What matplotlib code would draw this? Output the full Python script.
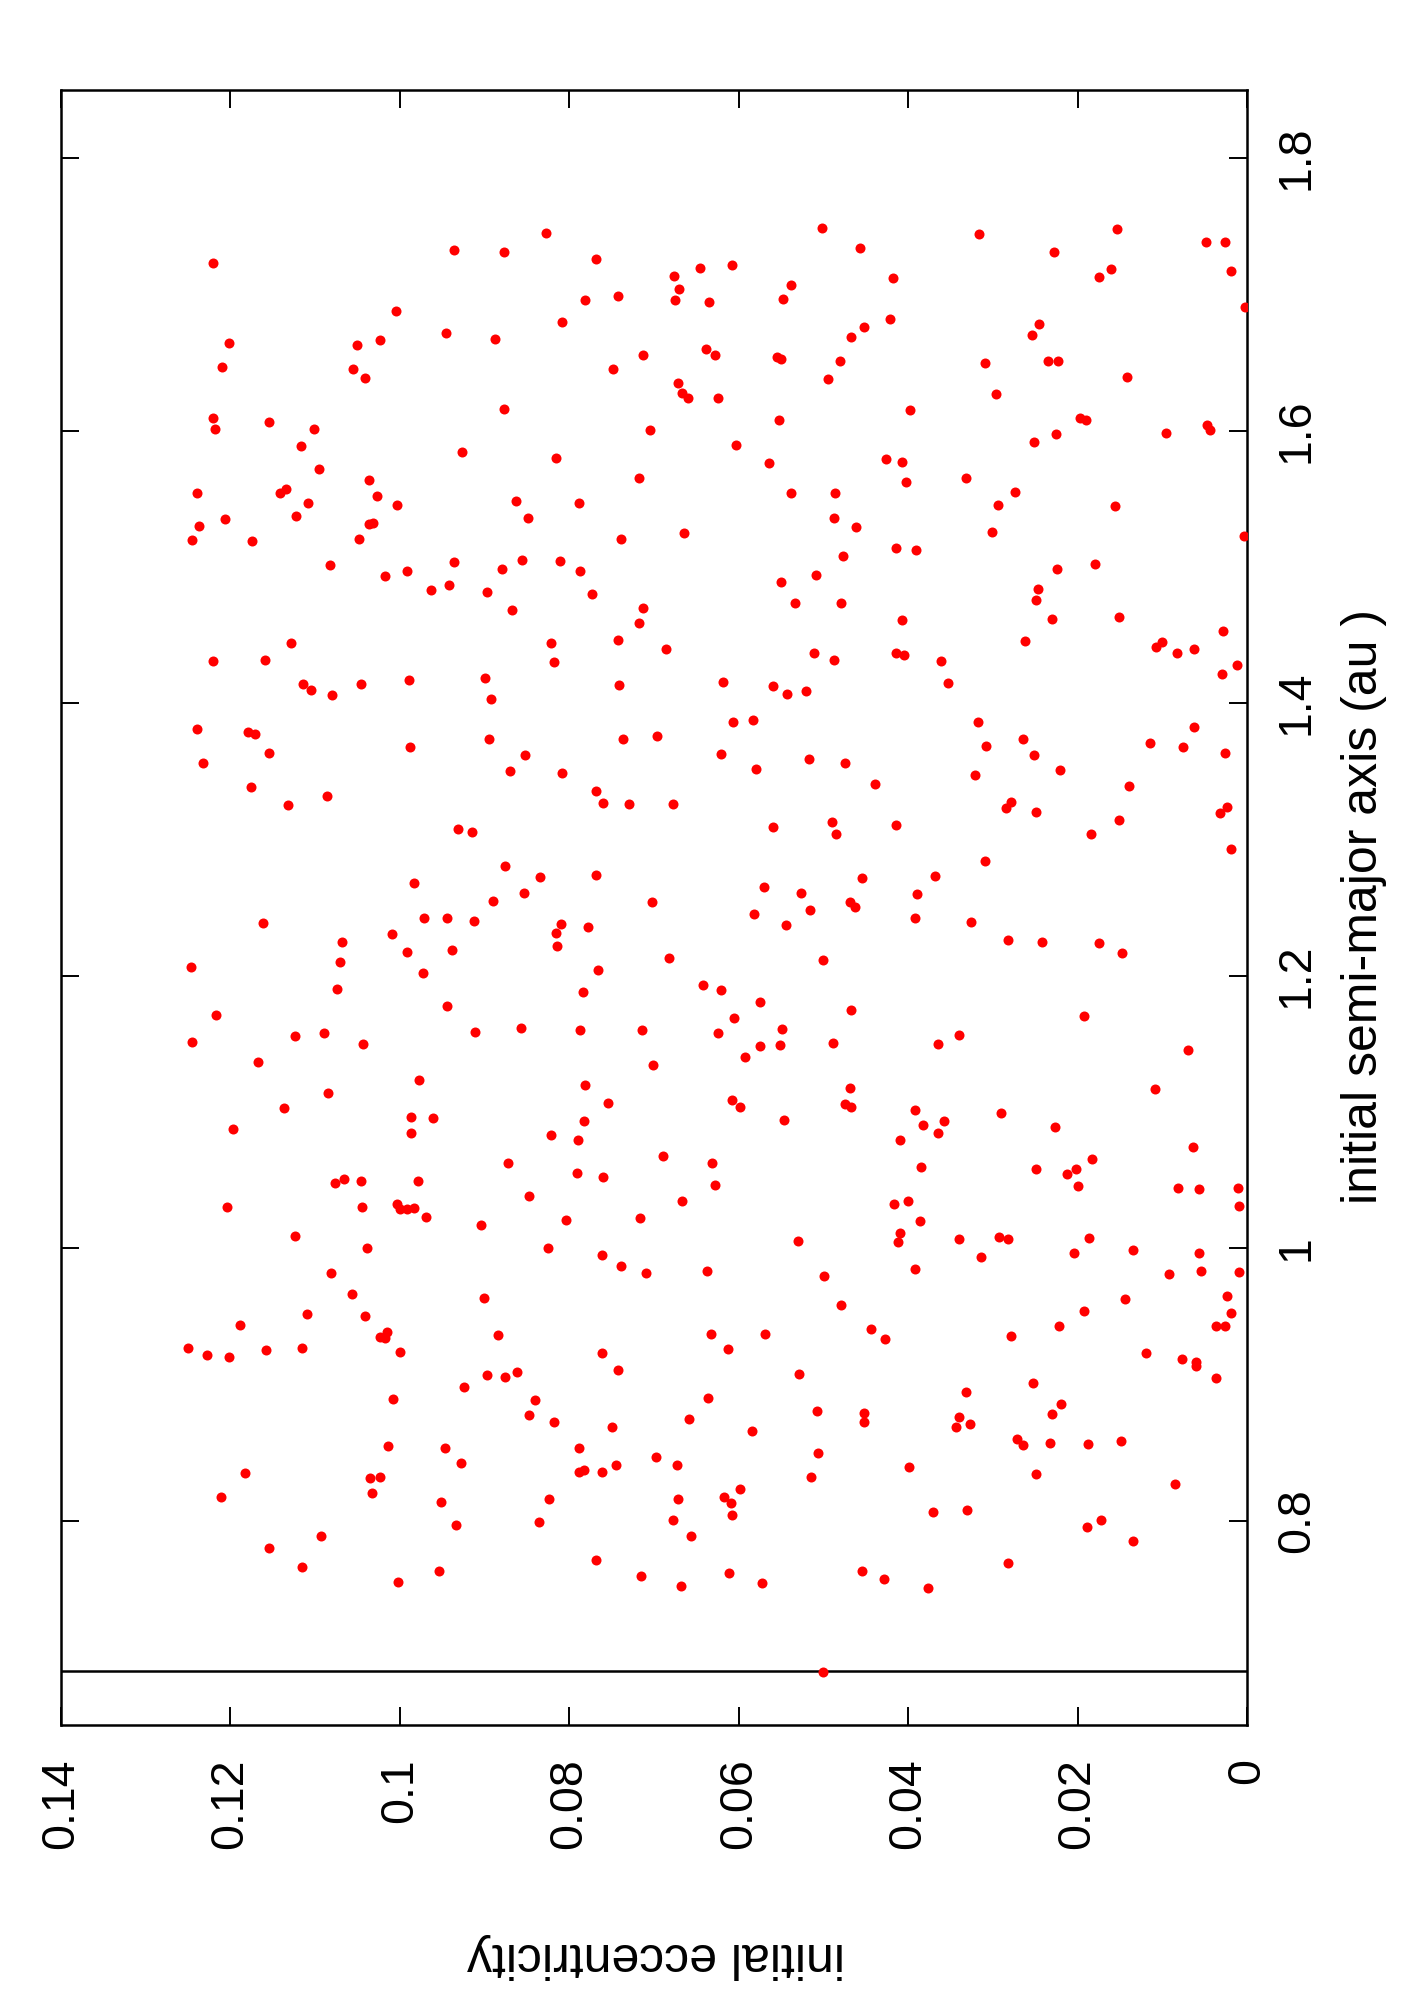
import matplotlib
matplotlib.use("Agg")
import matplotlib.pyplot as plt
import numpy as np

plt.rcParams['font.family'] = ['Liberation Sans', 'DejaVu Sans']

# (eccentricity, semi-major axis [au]), by band in a
band_155_185 = [
    (0.1221, 1.7233), (0.0936, 1.7323), (0.0877, 1.7314), (0.0828, 1.7448), (0.0769, 1.7257),
    (0.0782, 1.6957), (0.0743, 1.6991), (0.1005, 1.6878), (0.0809, 1.6795), (0.1202, 1.6643),
    (0.1051, 1.6631), (0.1023, 1.6663), (0.0945, 1.6719), (0.0888, 1.6673), (0.0713, 1.6555),
    (0.1210, 1.6470), (0.1055, 1.6450), (0.1041, 1.6384), (0.0748, 1.6450), (0.0877, 1.6159),
    (0.1220, 1.6091), (0.1218, 1.6010), (0.1154, 1.6061), (0.1101, 1.6010), (0.0705, 1.6003),
    (0.1117, 1.5890), (0.0927, 1.5846), (0.0816, 1.5797), (0.1095, 1.5719), (0.1036, 1.5638),
    (0.0718, 1.5655), (0.1240, 1.5540), (0.1142, 1.5545), (0.1134, 1.5572), (0.1027, 1.5523),
    (0.0502, 1.7485), (0.0457, 1.7343), (0.0316, 1.7443), (0.0154, 1.7478), (0.0048, 1.7382),
    (0.0026, 1.7382), (0.0228, 1.7309), (0.0676, 1.7138), (0.0646, 1.7196), (0.0608, 1.7213),
    (0.0670, 1.7037), (0.0675, 1.6959), (0.0635, 1.6942), (0.0538, 1.7069), (0.0548, 1.6966),
    (0.0418, 1.7118), (0.0175, 1.7130), (0.0161, 1.7186), (0.0019, 1.7172), (0.0002, 1.6905),
    (0.0422, 1.6820), (0.0452, 1.6763), (0.0467, 1.6685), (0.0246, 1.6780), (0.0254, 1.6705),
    (0.0639, 1.6597), (0.0628, 1.6555), (0.0555, 1.6538), (0.0550, 1.6524), (0.0481, 1.6509),
    (0.0495, 1.6377), (0.0309, 1.6499), (0.0235, 1.6509), (0.0223, 1.6514), (0.0142, 1.6394),
    (0.0672, 1.6352), (0.0667, 1.6279), (0.0660, 1.6237), (0.0624, 1.6242), (0.0296, 1.6269),
    (0.0553, 1.6076), (0.0398, 1.6149), (0.0197, 1.6091), (0.0190, 1.6078), (0.0047, 1.6042),
    (0.0044, 1.6005), (0.0096, 1.5981), (0.0225, 1.5973), (0.0252, 1.5919), (0.0603, 1.5895),
    (0.0564, 1.5760), (0.0426, 1.5792), (0.0407, 1.5773), (0.0403, 1.5626), (0.0332, 1.5655),
    (0.0538, 1.5540), (0.0486, 1.5540), (0.0274, 1.5548),
]

band_125_155 = [
    (0.1109, 1.5471), (0.1003, 1.5457), (0.0863, 1.5484), (0.0788, 1.5467), (0.1237, 1.5300),
    (0.1206, 1.5349), (0.1123, 1.5374), (0.1036, 1.5312), (0.1032, 1.5320), (0.0849, 1.5359),
    (0.1245, 1.5197), (0.1174, 1.5188), (0.1048, 1.5207), (0.0739, 1.5202), (0.1082, 1.5012),
    (0.1018, 1.4931), (0.0992, 1.4972), (0.0936, 1.5034), (0.0880, 1.4982), (0.0856, 1.5053),
    (0.0811, 1.5043), (0.0787, 1.4972), (0.0963, 1.4828), (0.0942, 1.4865), (0.0897, 1.4818),
    (0.0773, 1.4799), (0.0868, 1.4681), (0.0713, 1.4701), (0.0718, 1.4586), (0.1128, 1.4439),
    (0.0822, 1.4444), (0.0742, 1.4461), (0.1220, 1.4310), (0.1159, 1.4314), (0.0818, 1.4305),
    (0.1114, 1.4141), (0.1105, 1.4099), (0.1080, 1.4063), (0.1046, 1.4138), (0.0989, 1.4173),
    (0.0899, 1.4187), (0.0893, 1.4028), (0.0741, 1.4131), (0.1239, 1.3811), (0.1179, 1.3786),
    (0.1171, 1.3771), (0.1154, 1.3632), (0.1232, 1.3559), (0.0988, 1.3676), (0.0895, 1.3737),
    (0.0852, 1.3617), (0.0870, 1.3500), (0.0809, 1.3488), (0.0737, 1.3735), (0.0697, 1.3757),
    (0.1176, 1.3383), (0.1132, 1.3253), (0.1086, 1.3319), (0.0768, 1.3353), (0.0760, 1.3268),
    (0.0730, 1.3263), (0.0931, 1.3077), (0.0915, 1.3057), (0.0876, 1.2803), (0.0834, 1.2727),
    (0.0769, 1.2742), (0.0983, 1.2678), (0.0854, 1.2605), (0.0890, 1.2551), (0.0702, 1.2544),
    (0.0294, 1.5454), (0.0156, 1.5449), (0.0664, 1.5246), (0.0487, 1.5356), (0.0462, 1.5290),
    (0.0301, 1.5254), (0.0003, 1.5227), (0.0414, 1.5141), (0.0391, 1.5124), (0.0477, 1.5083),
    (0.0224, 1.4985), (0.0180, 1.5024), (0.0550, 1.4892), (0.0509, 1.4938), (0.0247, 1.4838),
    (0.0249, 1.4757), (0.0533, 1.4738), (0.0479, 1.4735), (0.0407, 1.4608), (0.0230, 1.4620),
    (0.0151, 1.4635), (0.0028, 1.4527), (0.0686, 1.4395), (0.0511, 1.4371), (0.0488, 1.4314),
    (0.0414, 1.4371), (0.0405, 1.4354), (0.0361, 1.4307), (0.0262, 1.4454), (0.0107, 1.4415),
    (0.0100, 1.4447), (0.0083, 1.4368), (0.0063, 1.4400), (0.0012, 1.4278), (0.0030, 1.4217),
    (0.0618, 1.4158), (0.0559, 1.4129), (0.0543, 1.4065), (0.0521, 1.4092), (0.0353, 1.4148),
    (0.0607, 1.3860), (0.0583, 1.3879), (0.0318, 1.3862), (0.0062, 1.3825), (0.0308, 1.3686),
    (0.0265, 1.3737), (0.0252, 1.3620), (0.0114, 1.3705), (0.0075, 1.3676), (0.0026, 1.3632),
    (0.0621, 1.3627), (0.0517, 1.3588), (0.0474, 1.3559), (0.0580, 1.3515), (0.0439, 1.3407),
    (0.0321, 1.3471), (0.0221, 1.3510), (0.0139, 1.3390), (0.0677, 1.3258), (0.0284, 1.3233),
    (0.0279, 1.3275), (0.0249, 1.3199), (0.0151, 1.3145), (0.0032, 1.3197), (0.0024, 1.3241),
    (0.0559, 1.3089), (0.0490, 1.3128), (0.0485, 1.3038), (0.0414, 1.3106), (0.0184, 1.3038),
    (0.0019, 1.2932), (0.0309, 1.2840), (0.0454, 1.2720), (0.0368, 1.2732), (0.0570, 1.2649),
    (0.0527, 1.2610), (0.0390, 1.2597), (0.0469, 1.2544), (0.0463, 1.2507),
]

band_095_125 = [
    (0.1162, 1.2384), (0.0971, 1.2426), (0.0944, 1.2426), (0.0913, 1.2404), (0.0810, 1.2379),
    (0.0816, 1.2316), (0.0778, 1.2357), (0.1068, 1.2247), (0.1009, 1.2306), (0.0991, 1.2174),
    (0.0939, 1.2191), (0.0815, 1.2220), (0.1246, 1.2061), (0.1071, 1.2098), (0.0973, 1.2022),
    (0.0766, 1.2039), (0.1074, 1.1902), (0.0784, 1.1883), (0.0944, 1.1778), (0.1217, 1.1714),
    (0.1245, 1.1516), (0.1124, 1.1560), (0.1090, 1.1577), (0.1043, 1.1501), (0.0911, 1.1584),
    (0.0857, 1.1616), (0.0787, 1.1604), (0.0714, 1.1599), (0.1168, 1.1364), (0.0701, 1.1342),
    (0.0977, 1.1235), (0.0781, 1.1195), (0.1085, 1.1142), (0.1137, 1.1032), (0.0754, 1.1066),
    (0.0987, 1.0961), (0.0961, 1.0953), (0.0783, 1.0931), (0.1197, 1.0877), (0.0987, 1.0843),
    (0.0821, 1.0833), (0.0790, 1.0792), (0.0872, 1.0625), (0.1076, 1.0476), (0.1066, 1.0506),
    (0.1046, 1.0496), (0.0979, 1.0493), (0.0791, 1.0555), (0.0760, 1.0520), (0.0847, 1.0386),
    (0.1204, 1.0305), (0.1045, 1.0300), (0.1003, 1.0325), (0.1000, 1.0285), (0.0991, 1.0290),
    (0.0983, 1.0298), (0.0969, 1.0227), (0.0904, 1.0168), (0.0804, 1.0207), (0.0716, 1.0222),
    (0.1124, 1.0087), (0.1039, 1.0004), (0.0825, 0.9999), (0.0761, 0.9950), (0.0739, 0.9867),
    (0.0710, 0.9821), (0.1081, 0.9816), (0.1057, 0.9662), (0.0901, 0.9637), (0.1110, 0.9517),
    (0.1041, 0.9503),
    (0.0582, 1.2450), (0.0544, 1.2372), (0.0516, 1.2482), (0.0392, 1.2421), (0.0326, 1.2391),
    (0.0682, 1.2127), (0.0501, 1.2118), (0.0282, 1.2259), (0.0242, 1.2245), (0.0175, 1.2240),
    (0.0147, 1.2169), (0.0642, 1.1929), (0.0621, 1.1893), (0.0575, 1.1809), (0.0468, 1.1751),
    (0.0192, 1.1702), (0.0605, 1.1692), (0.0549, 1.1606), (0.0624, 1.1579), (0.0575, 1.1484),
    (0.0551, 1.1494), (0.0489, 1.1506), (0.0365, 1.1499), (0.0340, 1.1565), (0.0070, 1.1452),
    (0.0592, 1.1406), (0.0469, 1.1173), (0.0109, 1.1171), (0.0608, 1.1088), (0.0598, 1.1039),
    (0.0475, 1.1056), (0.0468, 1.1039), (0.0392, 1.1014), (0.0290, 1.0990), (0.0546, 1.0943),
    (0.0382, 1.0907), (0.0358, 1.0934), (0.0365, 1.0843), (0.0227, 1.0887), (0.0410, 1.0797),
    (0.0064, 1.0740), (0.0689, 1.0674), (0.0631, 1.0625), (0.0385, 1.0594), (0.0249, 1.0584),
    (0.0213, 1.0542), (0.0202, 1.0579), (0.0183, 1.0655), (0.0628, 1.0464), (0.0199, 1.0454),
    (0.0081, 1.0440), (0.0057, 1.0435), (0.0011, 1.0440), (0.0010, 1.0307), (0.0667, 1.0349),
    (0.0417, 1.0325), (0.0400, 1.0349), (0.0386, 1.0200), (0.0410, 1.0109), (0.0412, 1.0046),
    (0.0530, 1.0051), (0.0340, 1.0065), (0.0293, 1.0078), (0.0282, 1.0070), (0.0187, 1.0075),
    (0.0134, 0.9987), (0.0057, 0.9963), (0.0204, 0.9963), (0.0314, 0.9933), (0.0637, 0.9833),
    (0.0499, 0.9794), (0.0392, 0.9845), (0.0092, 0.9809), (0.0054, 0.9835), (0.0009, 0.9828),
    (0.0479, 0.9579), (0.0144, 0.9625), (0.0193, 0.9535), (0.0024, 0.9647), (0.0019, 0.9527),
]

band_065_095 = [
    (0.1189, 0.9436), (0.1250, 0.9265), (0.1228, 0.9216), (0.1202, 0.9199), (0.1158, 0.9253),
    (0.1115, 0.9265), (0.1023, 0.9351), (0.1015, 0.9387), (0.1018, 0.9338), (0.1000, 0.9236),
    (0.0884, 0.9363), (0.0761, 0.9228), (0.0743, 0.9109), (0.0897, 0.9069), (0.0876, 0.9052),
    (0.0862, 0.9089), (0.0924, 0.8979), (0.1008, 0.8893), (0.0841, 0.8884), (0.0847, 0.8773),
    (0.0818, 0.8722), (0.0750, 0.8685), (0.1014, 0.8546), (0.0947, 0.8534), (0.0928, 0.8426),
    (0.0788, 0.8531), (0.0698, 0.8468), (0.1183, 0.8348), (0.1211, 0.8174), (0.1035, 0.8311),
    (0.1023, 0.8318), (0.1033, 0.8201), (0.0788, 0.8355), (0.0783, 0.8372), (0.0761, 0.8360),
    (0.0745, 0.8407), (0.0952, 0.8140), (0.0824, 0.8159), (0.0934, 0.7971), (0.0836, 0.7988),
    (0.1093, 0.7886), (0.1154, 0.7797), (0.1115, 0.7663), (0.1002, 0.7548), (0.0954, 0.7631),
    (0.0768, 0.7712), (0.0715, 0.7590),
    (0.0633, 0.9368), (0.0569, 0.9373), (0.0613, 0.9258), (0.0444, 0.9407), (0.0427, 0.9334),
    (0.0279, 0.9353), (0.0222, 0.9429), (0.0037, 0.9427), (0.0026, 0.9427), (0.0119, 0.9233),
    (0.0077, 0.9189), (0.0060, 0.9167), (0.0060, 0.9135), (0.0037, 0.9050), (0.0529, 0.9077),
    (0.0253, 0.9013), (0.0636, 0.8903), (0.0332, 0.8947), (0.0220, 0.8857), (0.0230, 0.8786),
    (0.0659, 0.8744), (0.0507, 0.8803), (0.0452, 0.8793), (0.0452, 0.8725), (0.0584, 0.8656),
    (0.0340, 0.8759), (0.0344, 0.8688), (0.0327, 0.8712), (0.0272, 0.8597), (0.0265, 0.8553),
    (0.0233, 0.8568), (0.0188, 0.8566), (0.0149, 0.8583), (0.0673, 0.8411), (0.0506, 0.8499),
    (0.0399, 0.8392), (0.0515, 0.8323), (0.0249, 0.8340), (0.0085, 0.8272), (0.0672, 0.8162),
    (0.0617, 0.8177), (0.0609, 0.8128), (0.0598, 0.8230), (0.0608, 0.8040), (0.0677, 0.8003),
    (0.0656, 0.7888), (0.0371, 0.8064), (0.0331, 0.8076), (0.0189, 0.7952), (0.0172, 0.8005),
    (0.0135, 0.7854), (0.0282, 0.7692), (0.0612, 0.7616), (0.0573, 0.7541), (0.0668, 0.7519),
    (0.0454, 0.7629), (0.0429, 0.7575), (0.0377, 0.7504), (0.0500, 0.6892),
]

line_sma = 0.69

ecc_ticks = [0, 0.02, 0.04, 0.06, 0.08, 0.1, 0.12, 0.14]
ecc_labels = ['0', '0.02', '0.04', '0.06', '0.08', '0.1', '0.12', '0.14']
sma_ticks = [0.8, 1.0, 1.2, 1.4, 1.6, 1.8]
sma_labels = ['0.8', '1', '1.2', '1.4', '1.6', '1.8']

pts = np.array(band_155_185 + band_125_155 + band_095_125 + band_065_095)
ecc = pts[:, 0]
sma = pts[:, 1]

fig = plt.figure(figsize=(14.01, 20.01), dpi=100)
ax = fig.add_axes([61 / 1401, 1 - 1725 / 2001, 1186 / 1401, 1635 / 2001])

ax.axhline(line_sma, color='black', lw=1.8, zorder=2)
ax.scatter(ecc, sma, s=52, color='#ff0000', linewidths=0, zorder=3)

ax.set_xlim(0.14, 0)
ax.set_ylim(0.65, 1.85)

ax.set_xticks(ecc_ticks)
ax.set_xticklabels(ecc_labels)
ax.set_yticks(sma_ticks)
ax.set_yticklabels(sma_labels)

ax.tick_params(axis='both', direction='in', length=13, width=1.4,
               top=True, bottom=True, left=True, right=True)
ax.tick_params(axis='x', labelsize=33.5, labelrotation=90, pad=24)
ax.tick_params(axis='y', labelsize=33.5, labelrotation=90, pad=20,
               labelleft=False, labelright=True)
for lab in ax.get_xticklabels():
    lab.set_verticalalignment('top')
for lab in ax.get_yticklabels():
    lab.set_verticalalignment('center')
    lab.set_horizontalalignment('left')

for sp in ax.spines.values():
    sp.set_linewidth(1.8)

fig.text(656 / 1401, 1 - 1956 / 2001, 'initial eccentricity', rotation=180,
         ha='center', va='center', fontsize=36)
fig.text(1364 / 1401, 1 - 907 / 2001, 'initial semi-major axis (au )', rotation=90,
         ha='center', va='center', fontsize=36)

fig.savefig('out.png', dpi=100)
